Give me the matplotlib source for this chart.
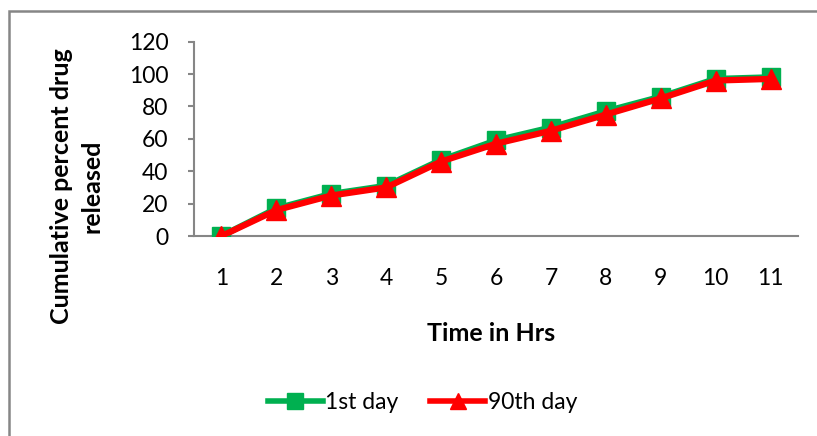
import matplotlib.pyplot as plt
from matplotlib.patches import Rectangle
from matplotlib.lines import Line2D

plt.rcParams['font.family'] = ['Lato', 'DejaVu Sans']

# Cumulative release (%) for each hour
hours = [1, 2, 3, 4, 5, 6, 7, 8, 9, 10, 11]
day1 = [0, 17, 26, 31, 47, 59, 67, 77, 86, 97, 98]
day90 = [0, 16, 25, 30, 46, 57, 65, 75, 85, 96, 97]

green = '#00B050'
red = '#FF0000'
grey = '#868686'

fig = plt.figure(figsize=(8.17, 4.36), dpi=100)
ax = fig.add_axes([0.2375, 0.4587, 0.7393, 0.4457])

ax.plot(hours, day1, color=green, lw=4.5, marker='s', markersize=13, zorder=3)
ax.plot(hours, day90, color=red, lw=4.5, marker='^', markersize=14, zorder=4)

ax.set_xlim(0.5, 11.5)
ax.set_ylim(0, 120)
ax.set_yticks(range(0, 121, 20))
ax.set_xticks(hours)
ax.tick_params(axis='y', length=4.5, width=1.5, color=grey, labelsize=16.5, pad=14)
ax.tick_params(axis='x', length=0, labelsize=16.5, pad=23)

for side in ['top', 'right']:
    ax.spines[side].set_visible(False)
for side in ['left', 'bottom']:
    ax.spines[side].set_color(grey)
    ax.spines[side].set_linewidth(1.5)

# axis titles
fig.text(62 / 817, 1 - 186 / 436, 'Cumulative percent drug', rotation=90,
         ha='center', va='center', fontsize=18, fontweight='bold')
fig.text(92 / 817, 1 - 186 / 436, 'released', rotation=90,
         ha='center', va='center', fontsize=18, fontweight='bold')
fig.text(491 / 817, 1 - 333 / 436, 'Time in Hrs', ha='center', va='center',
         fontsize=18, fontweight='bold')

handles = [
    Line2D([], [], color=green, lw=4, marker='s', markersize=12),
    Line2D([], [], color=red, lw=4, marker='^', markersize=12),
]
fig.legend(handles, ['1st day', '90th day'], loc='center', ncol=2,
           bbox_to_anchor=(0.517, 0.0757), frameon=False, fontsize=16.5,
           handlelength=2.4, handletextpad=0.1, columnspacing=1.4)

# chart border
fig.add_artist(Rectangle((9 / 817, -0.05), 1.1, 1 - 11 / 436 + 0.05,
                         transform=fig.transFigure, fill=False,
                         edgecolor=grey, lw=1.8))

fig.savefig('out.png', dpi=100)
